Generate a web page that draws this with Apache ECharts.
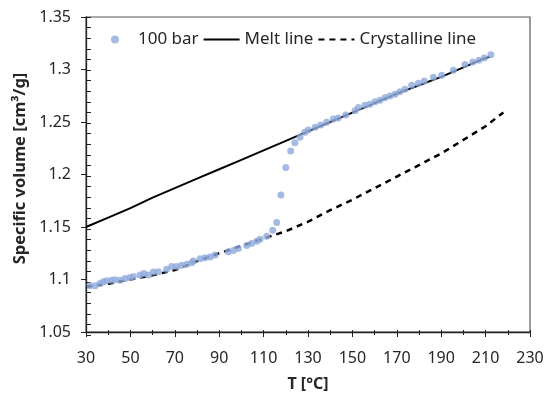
<!DOCTYPE html>
<html><head><meta charset="utf-8">
<script src="https://cdn.jsdelivr.net/npm/echarts@6/dist/echarts.min.js"></script>
<style>html,body{margin:0;padding:0;background:#fff}#c{width:550px;height:397px}</style>
</head><body><div id="c"></div>
<script>
// Measured data at 100 bar: [T (°C), specific volume (cm3/g)]
const measuredT = [31.8,34.1,36.3,37.8,39.3,41.6,43.1,45.3,47.6,49.8,51.3,54.3,56.1,58.1,60.3,62.6,66.3,68.6,70.8,73.1,75.4,77.6,78.3,81.4,83.6,85.9,88.1,94.1,96.4,98.6,102.4,104.6,106.9,108.4,111.4,114.1,115.9,117.8,120.0,122.2,124.1,126.4,128.6,130.1,133.2,135.7,138.4,141.4,143.6,147.0,151.2,152.7,155.7,157.9,160.2,162.4,164.7,166.9,169.2,171.4,173.7,176.7,179.7,182.4,186.5,190.2,195.5,200.7,204.2,207.0,209.4,212.4];
const measuredV = [1.0940,1.0940,1.0962,1.0978,1.0988,1.0994,1.0997,1.0994,1.1009,1.1019,1.1028,1.1044,1.1057,1.1044,1.1072,1.1075,1.1097,1.1123,1.1123,1.1135,1.1145,1.1160,1.1176,1.1198,1.1208,1.1214,1.1233,1.1264,1.1277,1.1296,1.1324,1.1343,1.1365,1.1384,1.1412,1.1469,1.1544,1.1805,1.2066,1.2224,1.2302,1.2355,1.2403,1.2425,1.2450,1.2472,1.2497,1.2528,1.2538,1.2566,1.2607,1.2638,1.2660,1.2670,1.2692,1.2708,1.2730,1.2748,1.2764,1.2789,1.2811,1.2849,1.2868,1.2890,1.2927,1.2946,1.2993,1.3047,1.3072,1.3088,1.3110,1.3141];
// Melt line
const meltT = [30,40,50,60,70,80,90,100,110,120,130,140,150,160,170,180,190,200,210,212];
const meltV = [1.150,1.159,1.168,1.178,1.187,1.196,1.205,1.214,1.223,1.232,1.241,1.250,1.259,1.268,1.277,1.285,1.293,1.302,1.311,1.312];
// Crystalline line
const crystT = [30,40,50,60,70,80,90,100,110,120,130,140,150,160,170,180,190,200,210,218];
const crystV = [1.093,1.096,1.100,1.104,1.109,1.1175,1.125,1.132,1.139,1.146,1.155,1.166,1.176,1.187,1.198,1.209,1.220,1.233,1.246,1.259];
const xTicks = {min:30, max:230, interval:20};
const yTicks = {min:1.05, max:1.35, interval:0.05};

const zip = (a,b) => a.map((v,i)=>[v,b[i]]);
const FONT = 'Noto Sans';
const TXT = '#262626';
const chart = echarts.init(document.getElementById('c'), null, {renderer:'canvas'});
const gridRect = {left:86, right:20, top:17, bottom:62};
chart.setOption({
  animation:false,
  textStyle:{fontFamily:FONT},
  grid:[Object.assign({show:true, borderColor:'#595959', borderWidth:1.2}, gridRect), Object.assign({show:false}, gridRect)],
  legend:{
    left:106, top:26, itemGap:4, itemWidth:36, itemHeight:8,
    textStyle:{fontFamily:FONT, fontSize:17, color:TXT},
    data:[
      {name:'100 bar', icon:'circle', itemStyle:{color:'#8FAADC'}},
      {name:'Melt line', itemStyle:{opacity:0}},
      {name:'Crystalline line', itemStyle:{opacity:0}}
    ]
  },
  xAxis:[{
    type:'value', gridIndex:0, min:xTicks.min, max:xTicks.max, interval:xTicks.interval,
    name:'T [°C]', nameLocation:'middle', nameGap:44,
    nameTextStyle:{fontFamily:FONT, fontSize:16, fontWeight:'bold', color:TXT},
    axisLine:{lineStyle:{color:'#222', width:1.3}},
    axisTick:{show:true, inside:false, length:5, lineStyle:{color:'#222'}},
    axisLabel:{fontFamily:FONT, fontSize:16, color:TXT, margin:18},
    splitLine:{show:false}
  },{
    type:'value', gridIndex:1, min:xTicks.min, max:xTicks.max, interval:xTicks.interval,
    axisLine:{show:false}, axisLabel:{show:false}, splitLine:{show:false},
    axisTick:{show:true, inside:true, length:5, lineStyle:{color:'#222'}},
    minorTick:{show:true, splitNumber:2, length:5, lineStyle:{color:'#222'}}
  }],
  yAxis:[{
    type:'value', gridIndex:0, min:yTicks.min, max:yTicks.max, interval:yTicks.interval,
    name:'Specific volume [cm³/g]', nameLocation:'middle', nameGap:56,
    nameTextStyle:{fontFamily:FONT, fontSize:16.5, fontWeight:'bold', color:TXT, padding:[0,0,0,12]},
    axisLine:{show:true, lineStyle:{color:'#222', width:1.3}},
    axisTick:{show:true, inside:false, length:5, lineStyle:{color:'#222'}},
    axisLabel:{fontFamily:FONT, fontSize:16, color:TXT, margin:15,
      formatter:v=>String(Math.round(v*100)/100)},
    splitLine:{show:false}
  },{
    type:'value', gridIndex:1, min:yTicks.min, max:yTicks.max, interval:yTicks.interval,
    axisLine:{show:false}, axisLabel:{show:false}, splitLine:{show:false},
    axisTick:{show:true, inside:true, length:5, lineStyle:{color:'#222'}},
    minorTick:{show:true, splitNumber:5, length:5, lineStyle:{color:'#222'}}
  }],
  series:[
    {name:'Melt line', type:'line', xAxisIndex:0, yAxisIndex:0, data:zip(meltT,meltV), showSymbol:false, symbol:'none',
      lineStyle:{color:'#000', width:2}, itemStyle:{color:'#000'}, z:2},
    {name:'Crystalline line', type:'line', xAxisIndex:0, yAxisIndex:0, data:zip(crystT,crystV), showSymbol:false, symbol:'none',
      lineStyle:{color:'#000', width:2.5, type:[6,5]}, itemStyle:{color:'#000'}, z:2},
    {name:'100 bar', type:'scatter', xAxisIndex:0, yAxisIndex:0, data:zip(measuredT,measuredV), symbol:'circle', symbolSize:7,
      itemStyle:{color:'#8FAADC'}, z:3}
  ]
});
</script></body></html>
